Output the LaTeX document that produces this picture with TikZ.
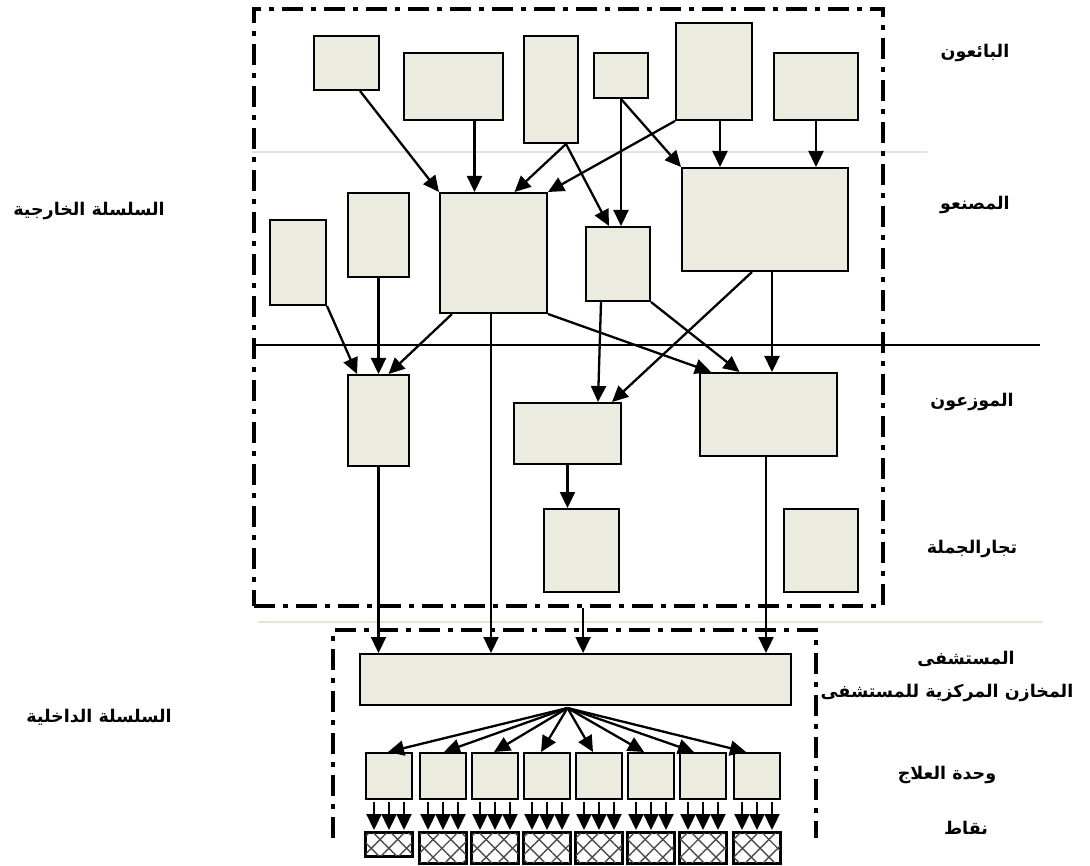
\documentclass[tikz,border=0pt]{standalone}
\usepackage{fontspec}
\usetikzlibrary{arrows.meta,patterns.meta}
\newfontfamily\arabicfont[Script=Arabic]{DejaVu Sans}
\TeXXeTstate=1
\definecolor{boxfill}{RGB}{236,235,224}
\definecolor{guideline}{RGB}{230,228,214}
\tikzset{
  box/.style={draw=black, line width=2pt, fill=boxfill, inner sep=0pt, anchor=north west},
  arr/.style={line width=2.3pt, -{Triangle[length=16pt,width=15pt]}},
  chainframe/.style={line width=4.2pt, dash pattern=on 21pt off 8pt on 5pt off 8pt},
  guide/.style={draw=guideline, line width=1.6pt},
  divider/.style={draw=black, line width=1.6pt},
  lab/.style={font=\arabicfont\bfseries\fontsize{17.5}{20}\selectfont, inner sep=0pt},
  hatchA/.style={pattern={Lines[angle=45,distance=12.5pt,line width=1.4pt]}, pattern color=black!70},
  hatchB/.style={pattern={Lines[angle=-45,distance=12.5pt,line width=1.4pt]}, pattern color=black!70},
}
\newcommand\mkbox[5]{\node[box, minimum width=#4pt, minimum height=#5pt] (#1) at (#2,#3) {};}
\begin{document}
\begin{tikzpicture}[x=1pt, y=-1pt]
\useasboundingbox (0,0) rectangle (1090,866);

% section guide lines
\draw[guide] (252,152) coordinate (g1a) -- (927,152) coordinate (g1b);
\draw[divider] (252,345) coordinate (d1a) -- (1040,345) coordinate (d1b);
\draw[guide] (258,622) coordinate (g2a) -- (1043,622) coordinate (g2b);

% outer supply chain frame
\node[chainframe, draw, inner sep=0pt, anchor=north west, minimum width=629pt, minimum height=597pt] (outer) at (252,7) {};

% inner (hospital) frame, open at the bottom
\coordinate (ia) at (333,838);
\coordinate (ib) at (333,630);
\coordinate (ic) at (816,630);
\coordinate (id) at (816,838);
\draw[chainframe] (ia) -- (ib) -- (ic) -- (id);

% sellers
\mkbox{S1}{313}{35}{65}{54}
\mkbox{S2}{403}{52}{99}{67}
\mkbox{S3}{523}{35}{54}{107}
\mkbox{S4}{593}{52}{54}{45}
\mkbox{S5}{675}{22}{76}{97}
\mkbox{S6}{773}{52}{84}{67}
% manufacturers
\mkbox{M1}{269}{219}{56}{85}
\mkbox{M2}{347}{192}{61}{84}
\mkbox{M3}{439}{192}{107}{120}
\mkbox{M4}{585}{226}{64}{74}
\mkbox{M5}{681}{167}{166}{103}
% distributors
\mkbox{D1}{347}{374}{61}{91}
\mkbox{D2}{513}{402}{107}{61}
\mkbox{D3}{699}{372}{137}{83}
% wholesalers
\mkbox{W1}{543}{508}{75}{83}
\mkbox{W2}{783}{508}{74}{83}
% hospital central stores
\mkbox{C}{359}{653}{431}{51}
% treatment units
\foreach \i/\x in {1/365,2/419,3/471,4/523,5/575,6/627,7/679,8/733}{
  \mkbox{U\i}{\x}{752}{46}{46}
}
% points of care (hatched)
\foreach \i/\x/\h in {1/365/23,2/419/30,3/471/30,4/523/30,5/575/30,6/627/30,7/679/30,8/733/30}{
  \node[draw=black, line width=2pt, fill=white, inner sep=0pt, anchor=north west,
        minimum width=46pt, minimum height=\h pt] (P\i) at (\x,832) {};
  \fill[hatchA] (P\i.north west) rectangle (P\i.south east);
  \fill[hatchB] (P\i.north west) rectangle (P\i.south east);
  \draw[line width=2pt] (P\i.north west) rectangle (P\i.south east);
}

% sellers -> manufacturers
\draw[arr] ([xshift=13.5pt]S1.south) -- (M3.north west);
\draw[arr] ([xshift=21pt]S2.south) -- ([xshift=21pt]S2.south |- M3.north);
\draw[arr] ([xshift=15pt]S3.south) -- ([xshift=21pt]M3.north);
\draw[arr] ([xshift=15pt]S3.south) -- ([xshift=-9pt]M4.north);
\draw[arr] (S4.south) -- (S4.south |- M4.north);
\draw[arr] (S4.south) -- (M5.north west);
\draw[arr] (S5.south west) -- (M3.north east);
\draw[arr] ([xshift=6pt]S5.south) -- ([xshift=6pt]S5.south |- M5.north);
\draw[arr] (S6.south) -- (S6.south |- M5.north);

% manufacturers -> distributors
\draw[arr] (M1.south east) -- ([xshift=10pt]D1.north west);
\draw[arr] (M2.south) -- (M2.south |- D1.north);
\draw[arr] ([xshift=13pt]M3.south west) -- ([xshift=10pt]D1.north);
\draw[arr] (M3.south east) -- ([xshift=12pt]D3.north west);
\draw[arr] ([xshift=-17pt]M4.south) -- ([xshift=30.5pt]D2.north);
\draw[arr] (M4.south east) -- ([xshift=-29pt]D3.north);
\draw[arr] ([xshift=-13pt]M5.south) -- ([xshift=-10pt]D2.north east);
\draw[arr] ([xshift=7pt]M5.south) -- ([xshift=7pt]M5.south |- D3.north);

% distributors -> wholesalers
\draw[arr] (D2.south) -- (D2.south |- W1.north);

% supply into the hospital central stores
\draw[arr] (D1.south) -- (D1.south |- C.north);
\draw[arr] ([xshift=-2.5pt]M3.south) -- ([xshift=-2.5pt]M3.south |- C.north);
\draw[arr] ([xshift=14.5pt]outer.south) -- ([xshift=14.5pt]outer.south |- C.north);
\draw[arr] ([xshift=-2.5pt]D3.south) -- ([xshift=-2.5pt]D3.south |- C.north);

% central stores -> treatment units
\coordinate (fan) at ([xshift=-8pt,yshift=-2pt]C.south);
\foreach \i/\dx in {1/-1,2/1,3/-1,4/-6,5/-6,6/-7,7/-9,8/-11}{
  \draw[arr] (fan) -- ([xshift=\dx pt]U\i.north);
}

% treatment units -> points of care
\foreach \i in {1,...,8}{
  \foreach \dx in {-15,0,15}{
    \draw[arr] ([xshift=\dx pt,yshift=-2pt]U\i.south) -- ([xshift=\dx pt,yshift=2pt]U\i.south |- P\i.north);
  }
}

% level labels
\node[lab] (lSellers) at (975,53) {\beginR البائعون\endR};
\node[lab] (lMakers) at (975,205) {\beginR المصنعو\endR};
\node[lab] (lDistrib) at (972,402) {\beginR الموزعون\endR};
\node[lab] (lWhole) at (972,549) {\beginR تجارالجملة\endR};
\node[lab] (lHosp) at (966,659) {\beginR المستشفى\endR};
\node[lab] (lStores) at (947,693) {\beginR المخازن المركزية للمستشفى\endR};
\node[lab] (lUnit) at (947,775) {\beginR وحدة العلاج\endR};
\node[lab] (lPoints) at (966,828) {\beginR نقاط\endR};
\node[lab] (lOuter) at (89,211) {\beginR السلسلة الخارجية\endR};
\node[lab] (lInner) at (99,717) {\beginR السلسلة الداخلية\endR};
\end{tikzpicture}
\end{document}
